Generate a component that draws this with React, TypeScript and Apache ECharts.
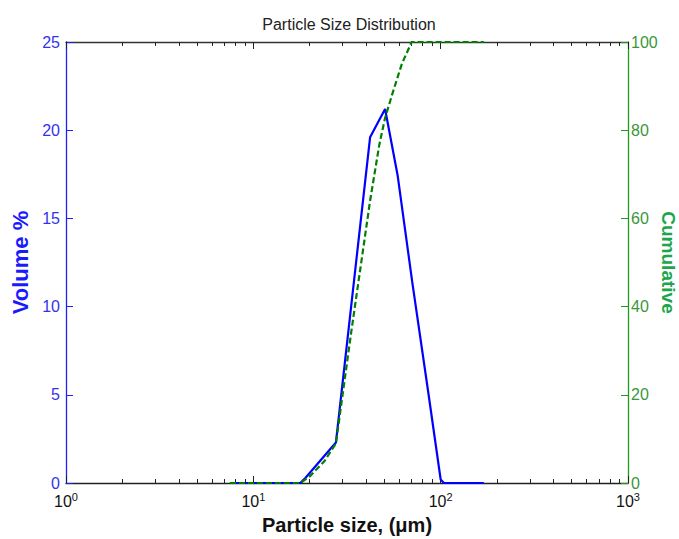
import React, { useEffect, useRef } from "react";
import * as echarts from "echarts";

// Particle size (µm) and volume % (blue)
const volSizes = [7.5, 17.8, 19.0, 27.6, 42.0, 50.5, 59.0, 70.5, 85.7, 100.0, 104.0, 170.0];
const volValues = [0, 0, 0.3, 2.3, 19.6, 21.2, 17.4, 11.4, 5.2, 0.2, 0, 0];

// Cumulative % (green dashed)
const cumSizes = [7.5, 17.8, 20.0, 24.0, 27.6, 33.0, 42.0, 47.0, 50.5, 55.0, 62.0, 70.0, 100.0, 170.0];
const cumValues = [0, 0, 1.5, 5, 9, 33, 64, 76.6, 82.8, 88, 95, 100, 100, 100];

const majorTicks = [1, 10, 100, 1000];
const minorTicks = [2, 3, 4, 5, 6, 7, 8, 9, 20, 30, 40, 50, 60, 70, 80, 90, 200, 300, 400, 500, 600, 700, 800, 900];

const FONT = "Liberation Sans, Arial, sans-serif";

export default function App() {
  const ref = useRef<HTMLDivElement>(null);
  useEffect(() => {
    if (!ref.current) return;
    const chart = echarts.init(ref.current, null, { renderer: "svg" });
    const axisBase = {
      type: "log" as const,
      logBase: 10,
      min: 1,
      max: 1000,
      splitLine: { show: false },
    };
    chart.setOption({
      animation: false,
      backgroundColor: "#ffffff",
      textStyle: { fontFamily: FONT },
      title: {
        text: "Particle Size Distribution",
        left: 344,
        top: 11,
        textAlign: "center",
        textStyle: { fontSize: 16, fontWeight: "normal", color: "#222", fontFamily: FONT },
      },
      grid: { left: 66, right: 51, top: 42, bottom: 56, containLabel: false, outerBoundsMode: "none" },
      xAxis: [
        {
          ...axisBase,
          position: "bottom",
          name: "Particle size, (μm)",
          nameLocation: "middle",
          nameGap: 32,
          nameMoveOverlap: false,
          nameTextStyle: { fontSize: 20, fontWeight: "bold", color: "#111", fontFamily: FONT },
          axisLine: { show: true, lineStyle: { color: "#222", width: 1.3 } },
          axisTick: { show: true, inside: true, length: 7, customValues: majorTicks, lineStyle: { color: "#222" } },
          axisLabel: {
            show: true,
            margin: 8,
            customValues: majorTicks,
            formatter: (v: number) => `{b|10}{s|${Math.round(Math.log10(v))}}`,
            rich: {
              b: { fontSize: 16, color: "#111", fontFamily: FONT },
              s: { fontSize: 11, color: "#111", fontFamily: FONT, padding: [0, 0, 9, 0] },
            },
          },
        },
        {
          ...axisBase,
          position: "bottom",
          axisLine: { show: false },
          axisTick: { show: true, inside: true, length: 4, customValues: minorTicks, lineStyle: { color: "#222" } },
          axisLabel: { show: false },
        },
        {
          ...axisBase,
          position: "top",
          axisLine: { show: true, onZero: false, lineStyle: { color: "#333", width: 1.3 } },
          axisTick: { show: true, inside: true, length: 7, customValues: majorTicks, lineStyle: { color: "#222" } },
          axisLabel: { show: false },
        },
        {
          ...axisBase,
          position: "top",
          axisLine: { show: false },
          axisTick: { show: true, inside: true, length: 4, customValues: minorTicks, lineStyle: { color: "#222" } },
          axisLabel: { show: false },
        },
      ],
      yAxis: [
        {
          type: "value",
          position: "left",
          min: 0,
          max: 25,
          interval: 5,
          name: "Volume %",
          nameLocation: "middle",
          nameGap: 35,
          nameMoveOverlap: false,
          nameTextStyle: { fontSize: 22, fontWeight: "bold", color: "#1a1aff", fontFamily: FONT },
          axisLine: { show: true, lineStyle: { color: "#2020ff", width: 1.3 } },
          axisTick: { show: true, inside: true, length: 7, lineStyle: { color: "#2020ff" } },
          axisLabel: { margin: 6, fontSize: 16, color: "#3333ee", fontFamily: FONT },
          splitLine: { show: false },
        },
        {
          type: "value",
          position: "right",
          min: 0,
          max: 100,
          interval: 20,
          name: "Cumulative",
          nameLocation: "middle",
          nameRotate: -90,
          nameGap: 31,
          nameMoveOverlap: false,
          nameTextStyle: { fontSize: 19, fontWeight: "bold", color: "#1aa64a", fontFamily: FONT },
          axisLine: { show: true, lineStyle: { color: "#1f9a1f", width: 1.3 } },
          axisTick: { show: true, inside: true, length: 7, lineStyle: { color: "#1f9a1f" } },
          axisLabel: { margin: 3, fontSize: 16, color: "#3a963a", fontFamily: FONT },
          splitLine: { show: false },
        },
      ],
      series: [
        {
          type: "line",
          name: "Volume",
          xAxisIndex: 0,
          yAxisIndex: 0,
          data: volSizes.map((s, i) => [s, volValues[i]]),
          showSymbol: false,
          symbol: "none",
          lineStyle: { color: "#0000ff", width: 2.2 },
          z: 3,
        },
        {
          type: "line",
          name: "Cumulative",
          xAxisIndex: 0,
          yAxisIndex: 1,
          data: cumSizes.map((s, i) => [s, cumValues[i]]),
          showSymbol: false,
          symbol: "none",
          lineStyle: { color: "#008000", width: 2.2, type: [6, 3] },
          z: 4,
        },
      ],
    });
    return () => chart.dispose();
  }, []);
  return <div ref={ref} style={{ width: 679, height: 539, position: "absolute", left: 0, top: 0 }} />;
}
